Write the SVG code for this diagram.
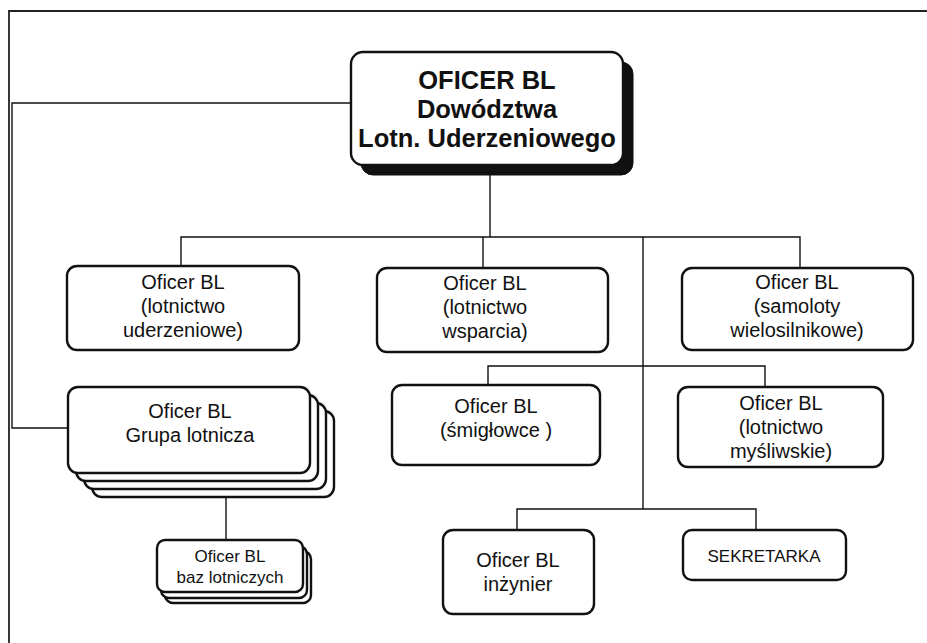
<svg xmlns="http://www.w3.org/2000/svg" width="927" height="643" viewBox="0 0 927 643">
  <style>
    .box { fill: #fff; stroke: #111; stroke-width: 2.4; }
    .shadow { fill: #111; stroke: #111; stroke-width: 1; }
    .line { fill: none; stroke: #111; stroke-width: 1.4; }
    .frame { fill: none; stroke: #222; stroke-width: 1.8; }
    text { font-family: "Liberation Sans", Arial, sans-serif; fill: #111; text-anchor: middle; }
    .title { font-size: 25.5px; font-weight: bold; }
    .lbl { font-size: 20px; }
    .small { font-size: 17px; }
  </style>

  <rect width="927" height="643" fill="#fff"/>

  <!-- page frame (top and left edges) -->
  <path class="frame" d="M927,11 H9 V643"/>

  <!-- connectors -->
  <g id="connectors">
    <path class="line" d="M352,103 H12 V428 H68"/>
    <path class="line" d="M490,175 V237"/>
    <path class="line" d="M181,266 V237 H800 V268"/>
    <path class="line" d="M483,237 V268"/>
    <path class="line" d="M643,237 V509"/>
    <path class="line" d="M488,385 V366 H765 V387"/>
    <path class="line" d="M517,530 V509 H756 V530"/>
    <path class="line" d="M226,497 V540"/>
  </g>

  <!-- top node -->
  <g id="n-dowodztwo">
    <rect class="shadow" x="361" y="62" width="272" height="113" rx="12"/>
    <rect class="box" x="351" y="52" width="272" height="113" rx="12"/>
    <text class="title" x="487" y="89">OFICER BL</text>
    <text class="title" x="487" y="118">Dowództwa</text>
    <text class="title" x="487" y="147">Lotn. Uderzeniowego</text>
  </g>

  <g id="n-uderzeniowe">
    <rect class="box" x="67" y="266" width="232" height="84" rx="10"/>
    <text class="lbl" x="183" y="289">Oficer BL</text>
    <text class="lbl" x="183" y="313">(lotnictwo</text>
    <text class="lbl" x="183" y="337">uderzeniowe)</text>
  </g>

  <g id="n-wsparcia">
    <rect class="box" x="377" y="268" width="231" height="84" rx="10"/>
    <text class="lbl" x="485" y="290">Oficer BL</text>
    <text class="lbl" x="485" y="314">(lotnictwo</text>
    <text class="lbl" x="485" y="338">wsparcia)</text>
  </g>

  <g id="n-wielosilnikowe">
    <rect class="box" x="682" y="268" width="231" height="82" rx="10"/>
    <text class="lbl" x="797" y="289">Oficer BL</text>
    <text class="lbl" x="797" y="313">(samoloty</text>
    <text class="lbl" x="797" y="337">wielosilnikowe)</text>
  </g>

  <g id="n-smiglowce">
    <rect class="box" x="392" y="385" width="208" height="80" rx="10"/>
    <text class="lbl" x="496" y="413">Oficer BL</text>
    <text class="lbl" x="496" y="437">(śmigłowce )</text>
  </g>

  <g id="n-mysliwskie">
    <rect class="box" x="678" y="387" width="205" height="80" rx="10"/>
    <text class="lbl" x="781" y="410">Oficer BL</text>
    <text class="lbl" x="781" y="434">(lotnictwo</text>
    <text class="lbl" x="781" y="458">myśliwskie)</text>
  </g>

  <!-- stacked group node -->
  <g id="n-grupa">
    <rect class="box" x="92" y="411" width="242" height="86" rx="10"/>
    <rect class="box" x="84" y="403" width="242" height="86" rx="10"/>
    <rect class="box" x="76" y="395" width="242" height="86" rx="10"/>
    <rect class="box" x="68" y="387" width="242" height="86" rx="10"/>
    <text class="lbl" x="190" y="418">Oficer BL</text>
    <text class="lbl" x="190" y="442">Grupa lotnicza</text>
  </g>

  <g id="n-bazy">
    <rect class="box" x="165" y="551" width="146" height="52" rx="8"/>
    <rect class="box" x="161" y="546" width="146" height="52" rx="8"/>
    <rect class="box" x="157" y="540" width="146" height="52" rx="8"/>
    <text class="small" x="230" y="562">Oficer BL</text>
    <text class="small" x="230" y="583">baz lotniczych</text>
  </g>

  <g id="n-inzynier">
    <rect class="box" x="443" y="530" width="151" height="84" rx="10"/>
    <text class="lbl" x="518" y="567">Oficer BL</text>
    <text class="lbl" x="518" y="591">inżynier</text>
  </g>

  <g id="n-sekretarka">
    <rect class="box" x="683" y="530" width="163" height="50" rx="9"/>
    <text class="small" x="764" y="562">SEKRETARKA</text>
  </g>
</svg>
